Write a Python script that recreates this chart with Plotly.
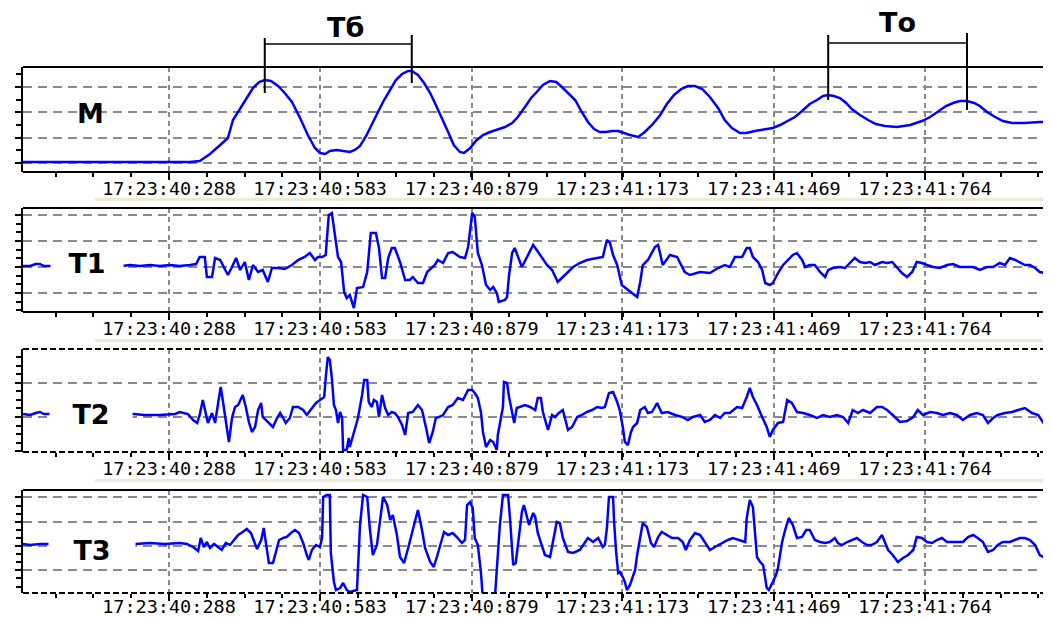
import plotly.graph_objects as go

# ---------------- data ----------------
TICK_VALS = [288, 583, 879, 1173, 1469, 1764]  # ms after 17:23:40.000
TICK_TEXT = ["17:23:40:288", "17:23:40:583", "17:23:40:879",
             "17:23:41:173", "17:23:41:469", "17:23:41:764"]
X_RANGE = [3, 2010]

M_t = [3, 153, 251, 329, 348, 368, 388, 403, 413, 427,
       440, 452, 464, 475, 487, 501, 514, 528, 544, 559,
       573, 583, 593, 602, 616, 630, 641, 651, 661, 673,
       684, 696, 708, 719, 731, 743, 755, 762, 774, 786,
       798, 809, 821, 833, 844, 856, 864, 876, 887, 901,
       915, 928, 944, 958, 969, 983, 995, 1006, 1018, 1032,
       1044, 1055, 1067, 1081, 1094, 1106, 1118, 1129, 1141, 1153,
       1165, 1176, 1188, 1204, 1217, 1231, 1247, 1260, 1274, 1288,
       1301, 1315, 1329, 1344, 1360, 1373, 1387, 1403, 1416, 1432,
       1452, 1467, 1481, 1496, 1510, 1524, 1539, 1553, 1565, 1575,
       1586, 1598, 1610, 1621, 1637, 1653, 1668, 1686, 1709, 1735,
       1758, 1774, 1789, 1805, 1819, 1832, 1846, 1860, 1871, 1885,
       1901, 1916, 1934, 1959, 1988, 2010]
M_v = [1, 1, 1, 1, 2, 9, 18, 25, 43, 55,
       65, 75, 81, 83, 82, 77, 70, 61, 45, 28,
       15, 10, 9, 12, 13, 12, 11, 13, 17, 27,
       39, 51, 63, 73, 83, 89, 92, 92, 88, 80,
       70, 58, 45, 31, 18, 11, 10, 15, 22, 28,
       31, 33, 36, 40, 46, 56, 65, 71, 78, 82,
       81, 76, 70, 63, 51, 41, 34, 31, 31, 32,
       32, 30, 28, 26, 31, 38, 48, 59, 68, 74,
       77, 77, 74, 66, 55, 43, 35, 30, 30, 32,
       34, 35, 38, 42, 46, 52, 59, 63, 67, 68,
       67, 65, 60, 54, 48, 43, 39, 37, 36, 38,
       42, 46, 51, 57, 60, 62, 62, 60, 57, 51,
       46, 42, 40, 40, 41, 41]

T1_t = [3, 17, 28, 36, 44, 56, 196, 212, 231, 251,
        270, 290, 309, 329, 341, 348, 358, 362, 372, 378,
        388, 395, 403, 411, 419, 427, 436, 444, 452, 462,
        471, 481, 489, 501, 514, 528, 540, 553, 563, 573,
        579, 587, 594, 600, 606, 612, 618, 624, 630, 635,
        641, 649, 655, 667, 675, 682, 692, 698, 704, 710,
        716, 723, 729, 739, 749, 758, 764, 774, 784, 792,
        807, 813, 823, 833, 842, 856, 866, 872, 880, 885,
        891, 899, 907, 915, 921, 928, 932, 944, 948, 952,
        958, 963, 969, 977, 987, 999, 1006, 1016, 1026, 1036,
        1047, 1055, 1065, 1077, 1090, 1104, 1124, 1135, 1143, 1149,
        1155, 1163, 1172, 1184, 1198, 1202, 1208, 1213, 1223, 1237,
        1243, 1252, 1266, 1280, 1295, 1305, 1325, 1344, 1360, 1373,
        1383, 1393, 1407, 1416, 1422, 1428, 1438, 1446, 1452, 1461,
        1467, 1477, 1487, 1496, 1506, 1514, 1524, 1530, 1539, 1549,
        1559, 1569, 1575, 1584, 1598, 1608, 1618, 1627, 1637, 1647,
        1657, 1666, 1680, 1690, 1700, 1709, 1719, 1729, 1739, 1748,
        1758, 1768, 1780, 1793, 1807, 1819, 1832, 1846, 1858, 1871,
        1885, 1897, 1910, 1920, 1930, 1940, 1949, 1959, 1969, 1979,
        1988, 1998, 2010]
T1_v = [1, 1, 3, 3, 1, 1, 1, 2, 1, 2,
        1, 2, 1, 2, 3, 10, 10, -10, -10, 9,
        7, 0, -8, 0, 9, -3, 5, -13, 2, -5,
        -3, -15, -1, -1, -2, 2, 7, 10, 14, 7,
        10, 10, 12, 52, 54, 32, 10, 5, -25, -31,
        -28, -41, -21, -20, -5, 34, 34, 19, -11, -11,
        9, 19, 19, 5, -13, -13, -10, -16, -16, -5,
        2, 7, 4, 14, 15, 10, 9, 20, 54, 50,
        14, 2, -18, -23, -20, -26, -35, -33, -30, -8,
        14, 19, 10, 0, 10, 22, 17, 9, 2, -3,
        -15, -11, -6, 0, 4, 7, 9, 10, 27, 24,
        12, 2, -18, -23, -28, -30, -15, 2, 7, 20,
        22, 2, 12, 10, -5, -8, -5, -6, -1, 2,
        0, 10, 10, 19, 19, 10, 5, -3, -16, -18,
        -16, -6, 2, 7, 12, 14, 7, 0, 2, 2,
        -5, -10, -3, -1, 0, -1, 4, 9, 5, 4,
        5, 2, 5, 4, 5, 0, -6, -10, -5, 5,
        4, 2, 0, -1, 2, 3, 0, 0, 0, -3,
        0, 0, 4, 2, 9, 7, 5, 2, 2, -1,
        -5, -6, -3]

T2_t = [3, 17, 28, 36, 44, 60, 218, 241, 270, 300,
        309, 325, 335, 343, 348, 354, 360, 364, 372, 378,
        384, 389, 395, 401, 405, 411, 417, 423, 429, 432,
        438, 444, 450, 456, 462, 468, 471, 477, 485, 491,
        499, 505, 511, 516, 524, 530, 540, 550, 557, 567,
        575, 583, 591, 594, 598, 602, 606, 610, 614, 618,
        622, 626, 628, 635, 639, 641, 647, 653, 657, 665,
        669, 675, 678, 684, 688, 694, 698, 704, 710, 716,
        723, 729, 735, 743, 749, 755, 764, 774, 782, 790,
        796, 803, 809, 815, 823, 833, 842, 852, 862, 872,
        880, 885, 891, 897, 901, 907, 915, 921, 928, 930,
        936, 940, 942, 948, 952, 958, 962, 967, 973, 983,
        993, 1003, 1008, 1014, 1018, 1026, 1028, 1036, 1042, 1049,
        1057, 1061, 1067, 1075, 1085, 1094, 1104, 1114, 1124, 1133,
        1139, 1147, 1155, 1163, 1168, 1174, 1178, 1184, 1190, 1194,
        1202, 1208, 1217, 1223, 1231, 1241, 1250, 1262, 1276, 1290,
        1301, 1311, 1325, 1334, 1344, 1354, 1364, 1373, 1383, 1397,
        1407, 1416, 1422, 1428, 1436, 1446, 1455, 1461, 1467, 1477,
        1487, 1495, 1504, 1514, 1526, 1539, 1553, 1565, 1578, 1592,
        1604, 1614, 1623, 1633, 1643, 1657, 1670, 1680, 1690, 1701,
        1715, 1729, 1741, 1750, 1760, 1774, 1787, 1799, 1813, 1826,
        1838, 1852, 1865, 1877, 1887, 1897, 1906, 1920, 1934, 1946,
        1959, 1973, 1985, 1994, 2010]
T2_v = [3, 2, 4, 5, 3, 3, 3, 2, 2, 3,
        5, 3, -3, -6, 2, 17, 2, -6, 4, -6,
        14, 30, 10, -11, -25, -1, 10, 12, 19, 22,
        10, -5, -15, -10, 7, 14, 0, -3, -8, -10,
        -1, 4, -1, -6, -1, 10, 10, 7, 2, 9,
        14, 17, 20, 39, 60, 57, 39, 12, 7, -6,
        5, -1, -33, -33, -21, -30, -18, -8, -1, 22,
        37, 37, 15, 10, 17, 15, 0, 22, 9, 2,
        5, 4, 0, -8, -18, 4, 5, 12, 7, -11,
        -26, -15, -1, 0, 2, 10, 12, 19, 17, 27,
        27, 24, 19, 5, -15, -30, -23, -25, -33, -18,
        0, 10, 35, 34, 20, 2, -6, 9, 10, 12,
        10, 7, 19, 19, 5, -8, -13, 2, 0, 4,
        7, -1, -13, -10, 0, 2, 5, 7, 10, 9,
        10, 24, 25, 15, 7, -10, -25, -28, -15, -10,
        -6, 7, 10, 4, 5, 14, 4, 5, 2, 0,
        -3, 0, 2, -5, -3, 2, -1, 4, 4, 10,
        9, 20, 29, 20, 12, 0, -10, -20, -13, -6,
        -5, 17, 14, 5, 4, 2, -1, 2, 0, 2,
        0, -6, 7, 4, 7, 4, 10, 10, 7, 2,
        -5, -4, 0, 7, 2, 5, 4, 2, 4, 2,
        -3, 2, 4, 2, -6, -1, 2, 4, 5, 7,
        9, 4, 2, -5, 2]

T3_t = [3, 17, 36, 56, 222, 251, 280, 309, 323, 335,
        345, 350, 356, 362, 368, 376, 384, 391, 399, 407,
        415, 423, 432, 440, 448, 454, 460, 468, 473, 477,
        483, 491, 497, 503, 511, 518, 526, 534, 542, 550,
        557, 561, 567, 575, 583, 587, 589, 596, 602, 604,
        610, 614, 622, 628, 635, 641, 655, 657, 661, 667,
        675, 680, 686, 694, 700, 706, 714, 720, 725, 733,
        739, 747, 755, 762, 768, 774, 782, 788, 798, 805,
        811, 819, 825, 833, 842, 850, 860, 866, 870, 876,
        881, 885, 891, 897, 901, 924, 928, 934, 940, 950,
        954, 958, 960, 965, 969, 977, 981, 987, 991, 999,
        1003, 1008, 1016, 1022, 1032, 1040, 1045, 1051, 1057, 1067,
        1077, 1090, 1100, 1106, 1116, 1126, 1135, 1139, 1143, 1147,
        1155, 1157, 1161, 1165, 1168, 1174, 1178, 1182, 1188, 1194,
        1198, 1202, 1208, 1213, 1221, 1229, 1235, 1243, 1250, 1260,
        1270, 1282, 1291, 1297, 1305, 1315, 1325, 1334, 1344, 1354,
        1368, 1379, 1389, 1403, 1413, 1416, 1422, 1428, 1432, 1436,
        1442, 1448, 1455, 1459, 1467, 1473, 1477, 1485, 1491, 1498,
        1506, 1514, 1524, 1532, 1539, 1549, 1559, 1569, 1578, 1588,
        1594, 1602, 1612, 1621, 1631, 1641, 1651, 1660, 1670, 1680,
        1686, 1692, 1701, 1711, 1721, 1731, 1741, 1748, 1758, 1768,
        1778, 1787, 1797, 1807, 1819, 1828, 1838, 1848, 1858, 1867,
        1877, 1887, 1897, 1906, 1916, 1930, 1940, 1949, 1959, 1969,
        1979, 1988, 1998, 2010]
T3_v = [2, 1, 2, 2, 2, 3, 2, 3, 2, -1,
        -5, 8, -1, 4, -2, 2, -1, -4, 3, 1,
        6, 11, 14, 17, 13, 4, -3, 6, 18, 4,
        -17, -17, -6, 6, 8, 9, 13, 16, 13, 3,
        -9, -14, -4, 1, -1, 9, 49, 51, 51, -7,
        -36, -44, -42, -37, -44, -46, -44, -26, 21, 51,
        49, 18, -9, 1, 28, 49, 41, 26, 31, 11,
        -11, -17, -2, 13, 26, 36, 16, -2, -16, -21,
        -11, 4, 14, 11, 13, 9, 3, 6, 41, 44,
        38, 8, 1, -26, -54, -54, -26, 21, 51, 51,
        26, 1, -19, -17, 1, 34, 41, 29, 21, 33,
        29, 13, -1, -9, -11, 9, 24, 23, 8, -6,
        -7, -4, 3, 8, 4, 8, -1, 1, 18, 49,
        49, 24, -6, -27, -26, -31, -36, -44, -39, -29,
        -24, -9, 9, 23, 19, 3, -1, 9, 14, 11,
        8, 8, 4, -4, 6, 13, 11, 4, -4, -1,
        3, 6, 8, 6, 4, 28, 46, 39, 13, -11,
        -16, -19, -42, -44, -36, -29, -22, 4, 16, 28,
        21, 8, 9, 16, 16, 6, 4, 3, 4, 8,
        3, 1, 4, 6, 8, 4, 1, 1, 4, 11,
        4, -4, -9, -16, -12, -9, -4, 9, 8, 4,
        3, 6, 8, 4, 4, 4, 4, 9, 11, 8,
        4, -6, -4, 1, 4, 4, 6, 8, 8, 6,
        1, -9, -12, -9]

SERIES_NAMES = ["M", "T1", "T2", "T3"]
TB_PEAKS = [475, 762]     # Тб period markers (ms)
TO_PEAKS = [1575, 1846]   # То period markers (ms)

# ---------------- layout helpers ----------------
# page body has an 8px margin, so the figure is sized to fill the rest of the window
OFF = 8
W, H = 1051 - OFF, 617 - OFF
def px(p):
    return (p - OFF) / W
def py(p):
    return 1 - (p - OFF) / H

BLUE = "#0000ff"
GRID = "#8a8a8a"

panels = [
    dict(t=M_t, v=M_v, top=67, bot=172, yr=[-9, 96], grid=25.3, minor=12.65,
         lx=90, ly=113, gap=None, top_dash="solid", bot_dash="solid", so=-7),
    dict(t=T1_t, v=T1_v, top=208, bot=312, yr=[-45, 59], grid=26, minor=26 / 3,
         lx=87, ly=263, gap=72, top_dash="solid", bot_dash="solid", so=-7),
    dict(t=T2_t, v=T2_v, top=349, bot=452, yr=[-35, 68], grid=34.3, minor=34.3 / 4,
         lx=91, ly=414, gap=82, top_dash="6px,3px", bot_dash="6px,3px", so=-7),
    dict(t=T3_t, v=T3_v, top=490, bot=593, yr=[-47, 56], grid=24.3, minor=8.1,
         lx=92, ly=550, gap=86, top_dash="solid", bot_dash="6px,3px", so=-10),
]

fig = go.Figure()
shapes = []
annotations = []

for i, (p, name) in enumerate(zip(panels, SERIES_NAMES), start=1):
    xa = "x" if i == 1 else f"x{i}"
    ya = "y" if i == 1 else f"y{i}"
    fig.add_trace(go.Scatter(x=p["t"], y=p["v"], mode="lines", name=name,
                             line=dict(color=BLUE, width=2.5),
                             xaxis=xa, yaxis=ya, showlegend=False,
                             hoverinfo="skip"))
    xkey = "xaxis" if i == 1 else f"xaxis{i}"
    ykey = "yaxis" if i == 1 else f"yaxis{i}"
    fig.layout[xkey] = dict(
        domain=[px(23), 1], anchor=ya, range=X_RANGE, automargin=False,
        tickmode="array", tickvals=TICK_VALS, ticktext=TICK_TEXT,
        ticks="outside", ticklen=7, tickwidth=1.5, tickcolor="black",
        ticklabelstandoff=p["so"],
        tickfont=dict(family="DejaVu Sans Mono", size=18.5, color="black"),
        showgrid=True, gridcolor=GRID, gridwidth=1.5, griddash="5px,4px",
        zeroline=False, showline=False,
        minor=dict(tickmode="linear", tick0=288, dtick=73.8, ticks="outside",
                   ticklen=4, tickwidth=1.5, tickcolor="black", showgrid=False),
    )
    fig.layout[ykey] = dict(
        domain=[py(p["bot"]), py(p["top"])], anchor=xa, range=p["yr"],
        automargin=False,
        tickmode="linear", tick0=0, dtick=p["grid"], showticklabels=False,
        ticks="outside", ticklen=6, tickwidth=1.5, tickcolor="black",
        showgrid=True, gridcolor=GRID, gridwidth=1.5, griddash="9px,6px",
        zeroline=False, showline=True, linecolor="black", linewidth=2,
        minor=dict(tickmode="linear", tick0=0, dtick=p["minor"], ticks="outside",
                   ticklen=5, tickwidth=1.5, tickcolor="black", showgrid=False),
    )
    # panel borders
    xd = f"{xa} domain"
    yd = f"{ya} domain"
    shapes.append(dict(type="line", xref=xd, yref=yd, x0=0, x1=1, y0=1, y1=1,
                       line=dict(color="black", width=2, dash=p["top_dash"])))
    shapes.append(dict(type="line", xref=xd, yref=yd, x0=0, x1=1, y0=0, y1=0,
                       line=dict(color="black", width=2, dash=p["bot_dash"])))
    # channel label
    ann = dict(text=f"<b>{name}</b>", xref="paper", yref="paper",
               x=px(p["lx"]), y=py(p["ly"]), xanchor="center", yanchor="middle",
               showarrow=False,
               font=dict(family="DejaVu Sans", size=27, color="black"))
    if p["gap"]:
        ann.update(bgcolor="white", width=p["gap"], height=24, borderpad=0)
    annotations.append(ann)

# beige window stripes above T panels
for top in [198, 339, 479]:
    shapes.append(dict(type="rect", xref="paper", yref="paper",
                       x0=px(95), x1=1, y0=py(top + 3), y1=py(top),
                       fillcolor="#ece9d8", line=dict(width=0), layer="below"))

# period brackets on M
def bracket(peaks, lefty, righty, hy):
    out = []
    out.append(dict(type="line", xref="x", yref="paper", x0=peaks[0], x1=peaks[0],
                    y0=py(lefty[0]), y1=py(lefty[1]), line=dict(color="black", width=2)))
    out.append(dict(type="line", xref="x", yref="paper", x0=peaks[1], x1=peaks[1],
                    y0=py(righty[0]), y1=py(righty[1]), line=dict(color="black", width=2)))
    out.append(dict(type="line", xref="x", yref="paper", x0=peaks[0], x1=peaks[1],
                    y0=py(hy), y1=py(hy), line=dict(color="black", width=1.5)))
    return out

shapes += bracket(TB_PEAKS, (38, 93), (35, 83), 44)
shapes += bracket(TO_PEAKS, (35, 100), (33, 110), 43)

annotations.append(dict(text="<b>Тб</b>", xref="paper", yref="paper",
                        x=px(345), y=py(28), xanchor="center", yanchor="middle",
                        showarrow=False,
                        font=dict(family="DejaVu Sans", size=27, color="black")))
annotations.append(dict(text="<b>То</b>", xref="paper", yref="paper",
                        x=px(897), y=py(23), xanchor="center", yanchor="middle",
                        showarrow=False,
                        font=dict(family="DejaVu Sans", size=27, color="black")))

fig.update_layout(width=W, height=H, margin=dict(l=0, r=0, t=0, b=0),
                  paper_bgcolor="white", plot_bgcolor="white",
                  shapes=shapes, annotations=annotations, showlegend=False)

fig.write_html("out.html")
